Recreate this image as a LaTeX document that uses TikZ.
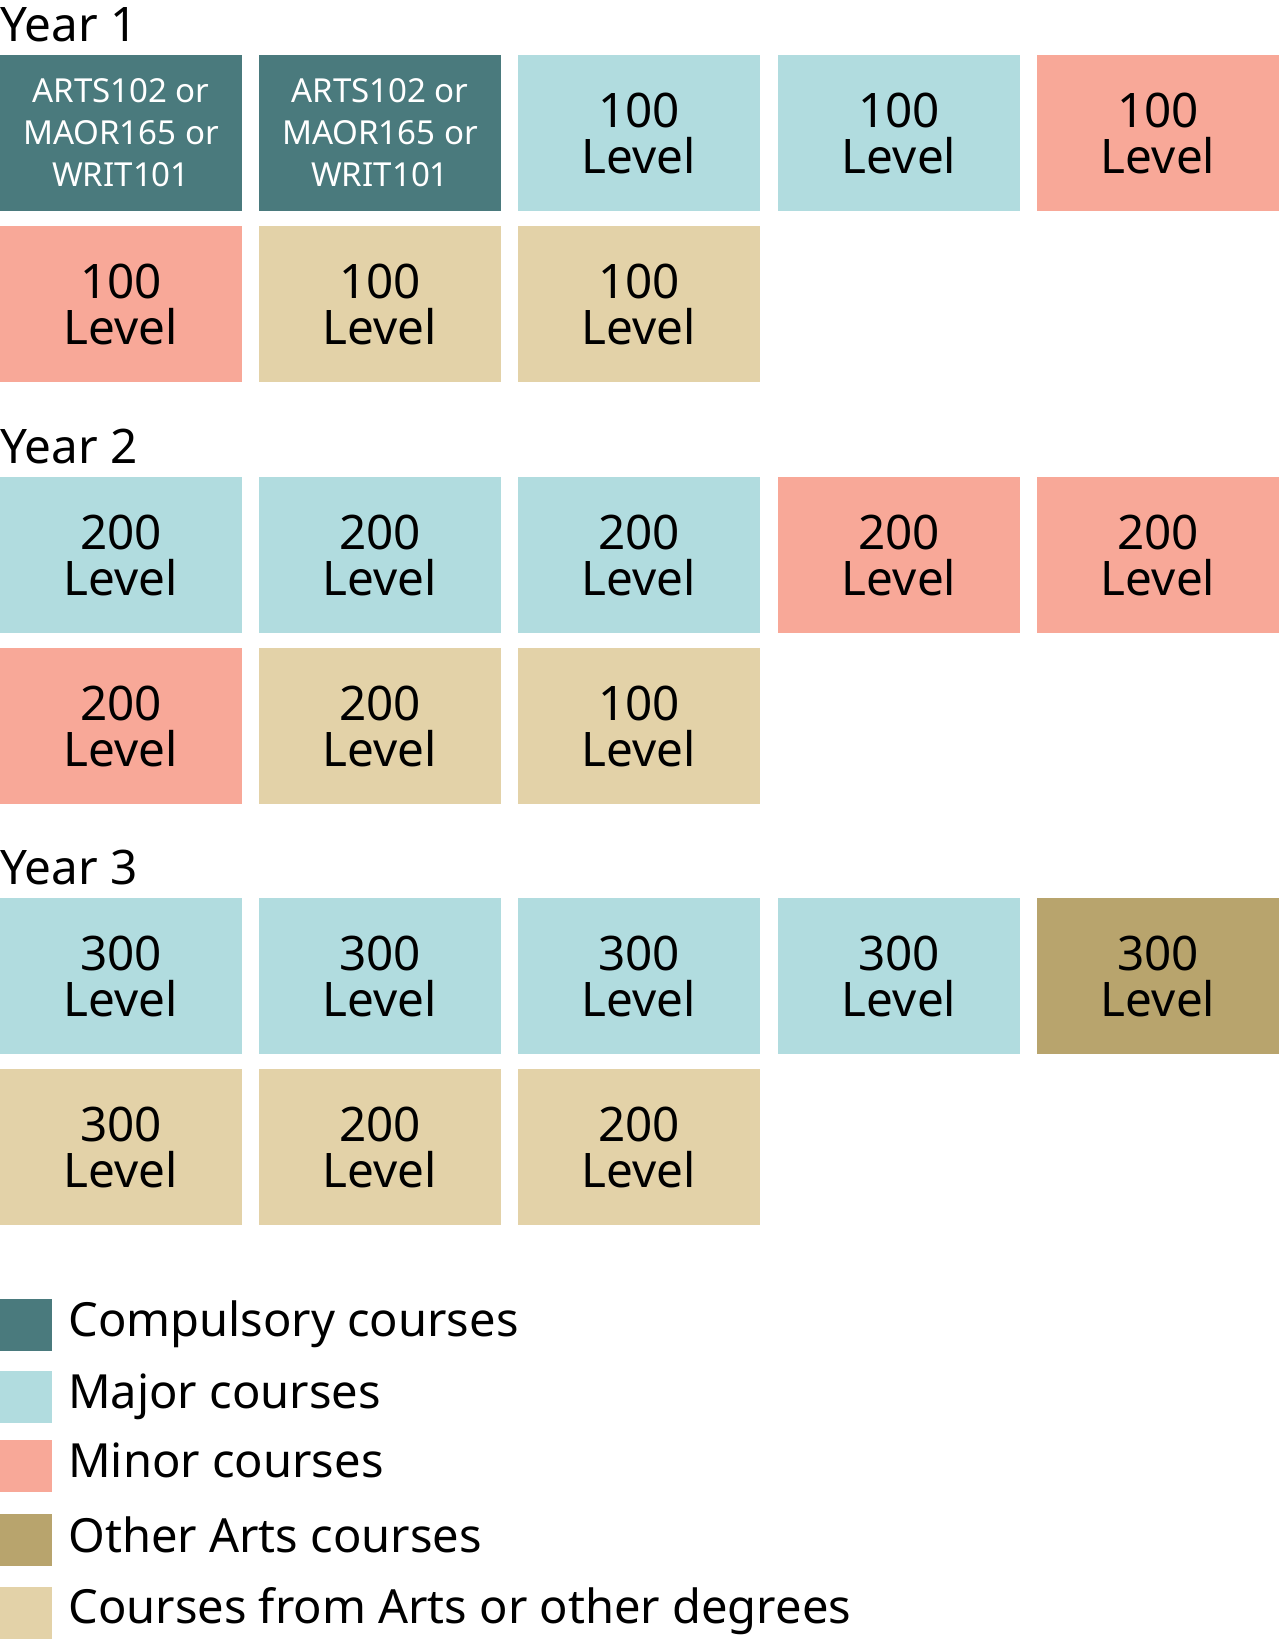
\documentclass[tikz,border=0pt]{standalone}
\usepackage{fontspec}
\setmainfont{Noto Sans}
\definecolor{compcol}{HTML}{4A7A7D}
\definecolor{majcol}{HTML}{B1DCDF}
\definecolor{mincol}{HTML}{F8A898}
\definecolor{othcol}{HTML}{B8A46D}
\definecolor{gencol}{HTML}{E3D2A8}

\begin{document}
\begin{tikzpicture}[x=0.75pt,y=-0.75pt,
	course/.style={rectangle,inner sep=0pt,minimum width=181.5pt,minimum height=117pt,align=center,font=\fontsize{35.7}{34.5}\selectfont},
	compul/.style={course,fill=compcol,text=white,font=\fontsize{24.8}{31.5}\selectfont},
	major/.style={course,fill=majcol},
	minor/.style={course,fill=mincol},
	other/.style={course,fill=othcol},
	general/.style={course,fill=gencol},
	yearlbl/.style={anchor=base west,inner sep=0pt,font=\fontsize{35.7}{40}\selectfont},
	keybox/.style={rectangle,inner sep=0pt,minimum size=39pt},
	keytext/.style={anchor=base west,inner sep=0pt,font=\fontsize{35.3}{40}\selectfont}]
	\useasboundingbox (0,0) rectangle (1280,1639);
	% Year 1
	\node[yearlbl] (yr1) at (0,41) {Year 1};
	\node[compul] (a1) at (121,133) {ARTS102 or\\MAOR165 or\\WRIT101};
	\node[compul] (a2) at (380,133) {ARTS102 or\\MAOR165 or\\WRIT101};
	\node[major] (a3) at (639,133) {100\\Level};
	\node[major] (a4) at (899,133) {100\\Level};
	\node[minor] (a5) at (1158,133) {100\\Level};
	\node[minor] (a6) at (121,304) {100\\Level};
	\node[general] (a7) at (380,304) {100\\Level};
	\node[general] (a8) at (639,304) {100\\Level};
	% Year 2
	\node[yearlbl] (yr2) at (0,463) {Year 2};
	\node[major] (b1) at (121,555) {200\\Level};
	\node[major] (b2) at (380,555) {200\\Level};
	\node[major] (b3) at (639,555) {200\\Level};
	\node[minor] (b4) at (899,555) {200\\Level};
	\node[minor] (b5) at (1158,555) {200\\Level};
	\node[minor] (b6) at (121,726) {200\\Level};
	\node[general] (b7) at (380,726) {200\\Level};
	\node[general] (b8) at (639,726) {100\\Level};
	% Year 3
	\node[yearlbl] (yr3) at (0,884) {Year 3};
	\node[major] (c1) at (121,976) {300\\Level};
	\node[major] (c2) at (380,976) {300\\Level};
	\node[major] (c3) at (639,976) {300\\Level};
	\node[major] (c4) at (899,976) {300\\Level};
	\node[other] (c5) at (1158,976) {300\\Level};
	\node[general] (c6) at (121,1147) {300\\Level};
	\node[general] (c7) at (380,1147) {200\\Level};
	\node[general] (c8) at (639,1147) {200\\Level};
	% key
	\node[keybox,fill=compcol] (k1) at (26,1325) {};
	\node[keybox,fill=majcol] (k2) at (26,1397) {};
	\node[keybox,fill=mincol] (k3) at (26,1466) {};
	\node[keybox,fill=othcol] (k4) at (26,1540) {};
	\node[keybox,fill=gencol] (k5) at (26,1612.5) {};
	\node[keytext] (t1) at (68,1336) {Compulsory courses};
	\node[keytext] (t2) at (68,1408) {Major courses};
	\node[keytext] (t3) at (68,1477) {Minor courses};
	\node[keytext] (t4) at (68,1552) {Other Arts courses};
	\node[keytext] (t5) at (68,1623) {Courses from Arts or other degrees};
\end{tikzpicture}
\end{document}
